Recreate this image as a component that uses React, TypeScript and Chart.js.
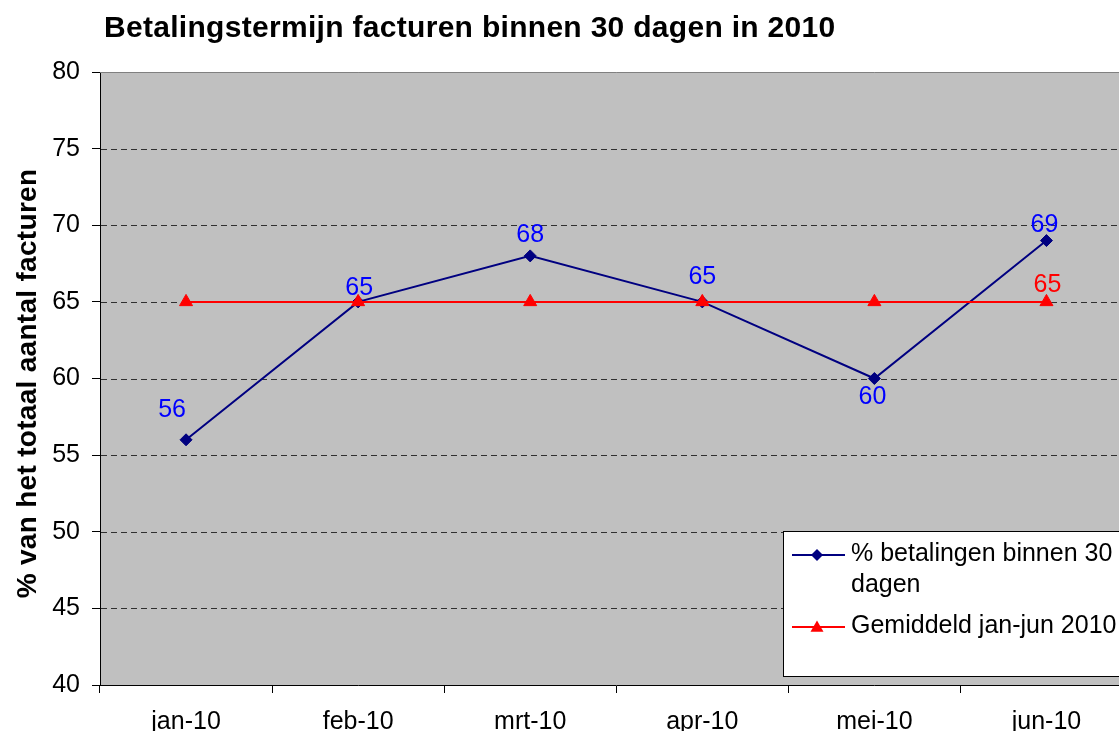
import React, { useEffect, useRef } from "react";
import { Chart, registerables } from "chart.js";

Chart.register(...registerables);

const months = ["jan-10", "feb-10", "mrt-10", "apr-10", "mei-10", "jun-10"];
const betalingen = [56, 65, 68, 65, 60, 69];
const gemiddeld = [65, 65, 65, 65, 65, 65];
const yMin = 40;
const yMax = 80;
const yStep = 5;
const chartTitle = "Betalingstermijn facturen binnen 30 dagen in 2010";
const yTitle = "% van het totaal aantal facturen";
const legendBetalingen = ["% betalingen binnen 30", "dagen"];
const legendGemiddeld = "Gemiddeld jan-jun 2010";
// which gemiddeld points carry a value label
const gemiddeldLabelShown = [false, false, false, false, false, true];

// label placement offsets (px) relative to each point
const betalingenLabelOffsets: [number, number][] = [
  [-14, -30],
  [1, -14],
  [0, -21],
  [0, -25],
  [-2, 19],
  [-2, -15],
];
const gemiddeldLabelOffset: [number, number] = [1, -17];

const FONT = '"Liberation Sans", Arial, sans-serif';
const NAVY = "#000080";
const RED = "#FF0000";
const BLUE = "#0000FF";

function drawDiamond(ctx: CanvasRenderingContext2D, x: number, y: number, r: number, c: string) {
  ctx.beginPath();
  ctx.moveTo(x - r, y);
  ctx.lineTo(x, y - r);
  ctx.lineTo(x + r, y);
  ctx.lineTo(x, y + r);
  ctx.closePath();
  ctx.fillStyle = c;
  ctx.fill();
}
function drawTriangle(ctx: CanvasRenderingContext2D, x: number, y: number, r: number, c: string) {
  const h = 1.5 * r;
  const w = Math.sqrt(3) * r;
  ctx.beginPath();
  ctx.moveTo(x, y - r);
  ctx.lineTo(x + w / 2, y - r + h);
  ctx.lineTo(x - w / 2, y - r + h);
  ctx.closePath();
  ctx.fillStyle = c;
  ctx.fill();
}

const decorPlugin = {
  id: "decor",
  beforeDraw(chart: any) {
    const { ctx, chartArea } = chart;
    ctx.save();
    ctx.fillStyle = "#FFFFFF";
    ctx.fillRect(0, 0, chart.width, chart.height);
    ctx.fillStyle = "#C0C0C0";
    ctx.fillRect(chartArea.left, chartArea.top, chartArea.right - chartArea.left, chartArea.bottom - chartArea.top);
    ctx.restore();
  },
  beforeDatasetsDraw(chart: any) {
    const { ctx, chartArea, scales } = chart;
    const y = scales.y;
    ctx.save();
    ctx.strokeStyle = "#303030";
    ctx.lineWidth = 1;
    ctx.setLineDash([6, 4]);
    for (let v = yMin + yStep; v < yMax; v += yStep) {
      const py = Math.round(y.getPixelForValue(v)) + 0.5;
      ctx.beginPath();
      ctx.moveTo(chartArea.left + 1, py);
      ctx.lineTo(chartArea.right, py);
      ctx.stroke();
    }
    ctx.setLineDash([]);
    // top border
    ctx.strokeStyle = "#808080";
    const top = Math.round(chartArea.top) + 0.5;
    ctx.beginPath();
    ctx.moveTo(chartArea.left, top);
    ctx.lineTo(chartArea.right, top);
    ctx.stroke();
    ctx.restore();
  },
  afterDatasetsDraw(chart: any) {
    const { ctx } = chart;
    const m0 = chart.getDatasetMeta(0);
    const m1 = chart.getDatasetMeta(1);
    ctx.save();
    ctx.font = `25px ${FONT}`;
    ctx.textAlign = "center";
    ctx.textBaseline = "middle";
    ctx.fillStyle = BLUE;
    betalingen.forEach((v, i) => {
      const p = m0.data[i];
      const [dx, dy] = betalingenLabelOffsets[i];
      ctx.fillText(String(v), p.x + dx, p.y + dy);
    });
    ctx.fillStyle = RED;
    gemiddeld.forEach((v, i) => {
      if (!gemiddeldLabelShown[i]) return;
      const p = m1.data[i];
      ctx.fillText(String(v), p.x + gemiddeldLabelOffset[0], p.y + gemiddeldLabelOffset[1]);
    });
    ctx.restore();
  },
  afterDraw(chart: any) {
    const { ctx, chartArea } = chart;
    ctx.save();
    // chart title
    ctx.fillStyle = "#000";
    ctx.font = `bold 30px ${FONT}`;
    (ctx as any).letterSpacing = "0.3px";
    ctx.textAlign = "left";
    ctx.textBaseline = "alphabetic";
    ctx.fillText(chartTitle, 104, 37);
    // y axis title
    ctx.save();
    ctx.font = `bold 28px ${FONT}`;
    (ctx as any).letterSpacing = "0.3px";
    ctx.translate(36, (chartArea.top + chartArea.bottom) / 2 + 5);
    ctx.rotate(-Math.PI / 2);
    ctx.textAlign = "center";
    ctx.fillText(yTitle, 0, 0);
    ctx.restore();
    (ctx as any).letterSpacing = "0px";

    // legend box
    const lx = 783.5;
    const ly = 531.5;
    const lw = 400;
    const lh = 145;
    ctx.fillStyle = "#FFFFFF";
    ctx.fillRect(lx, ly, lw, lh);
    ctx.strokeStyle = "#000";
    ctx.lineWidth = 1;
    ctx.strokeRect(lx, ly, lw, lh);

    // entry 1
    ctx.lineWidth = 2;
    ctx.strokeStyle = NAVY;
    ctx.beginPath();
    ctx.moveTo(792, 555);
    ctx.lineTo(845, 555);
    ctx.stroke();
    drawDiamond(ctx, 817, 555, 6, NAVY);
    // entry 2
    ctx.strokeStyle = RED;
    ctx.beginPath();
    ctx.moveTo(792, 627);
    ctx.lineTo(845, 627);
    ctx.stroke();
    drawTriangle(ctx, 817, 628, 7.5, RED);

    ctx.fillStyle = "#000";
    ctx.font = `25px ${FONT}`;
    ctx.textAlign = "left";
    ctx.textBaseline = "alphabetic";
    ctx.fillText(legendBetalingen[0], 851, 561);
    ctx.fillText(legendBetalingen[1], 851, 592);
    ctx.fillText(legendGemiddeld, 851, 633);
    ctx.restore();
  },
};

export default function App() {
  const ref = useRef<HTMLCanvasElement>(null);
  useEffect(() => {
    const chart = new Chart(ref.current as HTMLCanvasElement, {
      type: "line",
      data: {
        labels: months,
        datasets: [
          {
            label: legendBetalingen.join(" "),
            data: betalingen,
            borderColor: NAVY,
            backgroundColor: NAVY,
            borderWidth: 2,
            pointStyle: "rectRot",
            pointRadius: 6,
            pointBorderWidth: 1,
            pointBackgroundColor: NAVY,
            pointBorderColor: NAVY,
            tension: 0,
            order: 2,
          },
          {
            label: legendGemiddeld,
            data: gemiddeld,
            borderColor: RED,
            backgroundColor: RED,
            borderWidth: 2,
            pointStyle: "triangle",
            pointRadius: 7.5,
            pointBorderWidth: 1,
            pointBackgroundColor: RED,
            pointBorderColor: RED,
            tension: 0,
            order: 1,
          },
        ],
      },
      options: {
        responsive: false,
        animation: false,
        devicePixelRatio: 1,
        layout: { padding: { top: 72, left: 0, right: 4, bottom: 0 } },
        plugins: {
          legend: { display: false },
          title: { display: false },
          tooltip: { enabled: false },
        },
        scales: {
          x: {
            type: "category",
            offset: true,
            grid: {
              offset: true,
              drawOnChartArea: false,
              drawTicks: true,
              tickLength: 8,
              color: "#000",
              lineWidth: 1,
            },
            border: { display: true, color: "#000", width: 1 },
            ticks: {
              font: { family: FONT, size: 25 },
              color: "#000",
              padding: 14,
              maxRotation: 0,
              autoSkip: false,
            },
            afterFit: (s: any) => {
              s.height = 46;
            },
          },
          y: {
            min: yMin,
            max: yMax,
            grid: {
              drawOnChartArea: false,
              drawTicks: true,
              tickLength: 8,
              color: "#000",
              lineWidth: 1,
            },
            border: { display: true, color: "#000", width: 1 },
            ticks: {
              stepSize: yStep,
              font: { family: FONT, size: 25 },
              color: "#000",
              padding: 12,
            },
            afterFit: (s: any) => {
              s.width = 100;
            },
          },
        },
      },
      plugins: [decorPlugin],
    });
    return () => chart.destroy();
  }, []);
  return (
    <div
      style={{
        position: "fixed",
        left: 0,
        top: 0,
        width: 1119,
        height: 731,
        overflow: "hidden",
        background: "#fff",
      }}
    >
      <canvas ref={ref} width={1141} height={731} style={{ display: "block", width: 1141, height: 731 }} />
    </div>
  );
}
